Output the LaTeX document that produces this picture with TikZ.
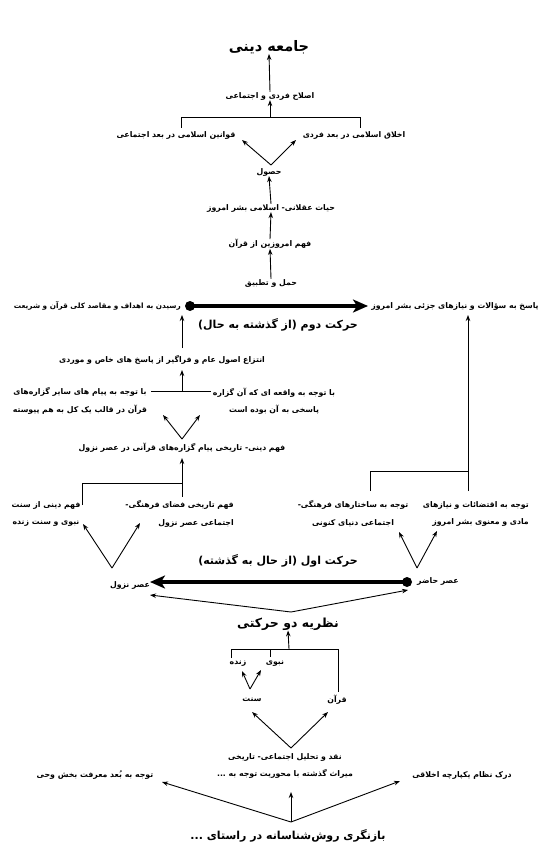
\documentclass[tikz,border=0pt]{standalone}
\usepackage{fontspec}
\usetikzlibrary{arrows.meta}
\TeXXeTstate=1
\newfontfamily\arabicfont[Script=Arabic]{DejaVu Sans}
\newcommand\fa[1]{\beginR #1\endR}
\begin{document}
\begin{tikzpicture}[x=1pt,y=-1pt,
  txt/.style={font=\arabicfont\bfseries\fontsize{7.8}{17.5}\selectfont, inner sep=0pt, align=center},
  big/.style={font=\arabicfont\bfseries\fontsize{14.5}{16}\selectfont, inner sep=0pt},
  mid/.style={font=\arabicfont\bfseries\fontsize{11}{13}\selectfont, inner sep=0pt},
  ln/.style={line width=0.9pt},
  arr/.style={line width=0.9pt, -{Stealth[length=6pt,width=4.5pt]}},
  thick arr/.style={line width=3.6pt, -{Stealth[length=15pt,width=13pt,inset=4pt]}},
  dotstyle/.style={circle, fill=black, inner sep=0pt, minimum size=10pt}]
\fill[white] (0,0) rectangle (550,858);
% ---------- top part ----------
\node[big] (jameh) at (269,47) {\fa{جامعه دینی}};
\node[txt] (eslah) at (270,96) {\fa{اصلاح فردی و اجتماعی}};
\node[txt] (ghavanin) at (176,135) {\fa{قوانین اسلامی در بعد اجتماعی}};
\node[txt] (akhlagh) at (354,135) {\fa{اخلاق اسلامی در بعد فردی}};
\node[txt] (hosul) at (269,172) {\fa{حصول}};
\node[txt] (hayat) at (271,208) {\fa{حیات عقلانی- اسلامی بشر امروز}};
\node[txt] (fahmEmruz) at (270,244) {\fa{فهم امروزین از قرآن}};
\node[txt] (haml) at (271,283) {\fa{حمل و تطبیق}};
\node[txt, anchor=east, font=\arabicfont\bfseries\fontsize{7.3}{9}\selectfont] (residan) at (181,306) {\fa{رسیدن به اهداف و مقاصد کلی قرآن و شریعت}};
\node[txt] (pasokh) at (455,306) {\fa{پاسخ به سؤالات و نیازهای جزئی بشر امروز}};
\node[mid] (harekat2) at (278,325) {\fa{حرکت دوم (از گذشته به حال)}};
\node[dotstyle] (dot2) at (190,306) {};
\coordinate (tip2) at (368,306);
\coordinate (brTopL) at (181,128);
\coordinate (brTopR) at (360,128);
\coordinate (brTopC) at (270,117);
\coordinate (hosulApex) at (271,165);
\coordinate (hosulL) at (242,140);
\coordinate (hosulR) at (296,140);
\draw[arr] (eslah.north) -- (jameh.south);
\draw[ln] (brTopL) -- (181,117) -- (360,117) -- (brTopR);
\draw[arr] (brTopC) -- (eslah.south);
\draw[arr] (hosulApex) -- (hosulL);
\draw[arr] (hosulApex) -- (hosulR);
\draw[arr] (hayat.north) -- (hosul.south);
\draw[arr] (fahmEmruz.north) -- (hayat.south);
\draw[arr] (haml.north) -- (fahmEmruz.south);
\draw[thick arr] (dot2.center) -- (tip2);
% ---------- middle part ----------
\node[txt] (entezaa) at (162,360) {\fa{انتزاع اصول عام و فراگیر از پاسخ های خاص و موردی}};
\node[txt] (bataj1) at (80,401) {\fa{با توجه به پیام های سایر گزاره‌های}\\\fa{قرآن در قالب یک کل به هم پیوسته}};
\node[txt] (bataj2) at (274,401) {\fa{با توجه به واقعه ای که آن گزاره}\\\fa{پاسخی به آن بوده است}};
\node[txt] (fahmDini) at (182,448) {\fa{فهم دینی- تاریخی پیام گزاره‌های قرآنی در عصر نزول}};
\node[txt] (sonnat) at (46,514) {\fa{فهم دینی از سنت}\\\fa{نبوی و سنت زنده}};
\node[txt, align=right, anchor=east] (fazayi) at (234,514) {\fa{فهم تاریخی فضای فرهنگی-}\\\fa{اجتماعی عصر نزول}};
\node[txt] (sakhtar) at (353,514) {\fa{توجه به ساختارهای فرهنگی-}\\\fa{اجتماعی دنیای کنونی}};
\node[txt, align=right, anchor=east] (eqtezaat) at (529,514) {\fa{توجه به اقتضائات و نیازهای}\\\fa{مادی و معنوی بشر امروز}};
\coordinate (entUp) at (182,348);
\coordinate (resDown) at (182,315);
\coordinate (bL) at (151,391);
\coordinate (bR) at (211,391);
\coordinate (bC) at (182,391);
\coordinate (bTip) at (182,370);
\coordinate (fdApex) at (182,439);
\coordinate (fdL) at (163,415);
\coordinate (fdR) at (200,415);
\coordinate (lbA) at (82,505);
\coordinate (lbB) at (182,497);
\coordinate (lbC) at (182,483);
\coordinate (fdTip) at (182,458);
\coordinate (rbA) at (370,491);
\coordinate (rbB) at (468,491);
\coordinate (rbTip) at (468,315);
\draw[arr] (entUp) -- (resDown);
\draw[ln] (bL) -- (bR);
\draw[arr] (bC) -- (bTip);
\draw[arr] (fdApex) -- (fdL);
\draw[arr] (fdApex) -- (fdR);
\draw[ln] (lbA) -- (82,483) -- (lbC) -- (lbB);
\draw[arr] (lbC) -- (fdTip);
\draw[ln] (rbA) -- (370,471) -- (468,471);
\draw[arr] (rbB) -- (rbTip);
% ---------- lower part ----------
\node[mid] (harekat1) at (278,561) {\fa{حرکت اول (از حال به گذشته)}};
\node[txt] (asrNozul) at (130,585) {\fa{عصر نزول}};
\node[txt, anchor=west] (asrHazer) at (417,581) {\fa{عصر حاضر}};
\node[dotstyle] (dot1) at (407,582) {};
\coordinate (tip1) at (150,582);
\coordinate (nzApex) at (112,568);
\coordinate (nzL) at (83,524);
\coordinate (nzR) at (140,523);
\coordinate (hzApex) at (417,568);
\coordinate (hzL) at (399,532);
\coordinate (hzR) at (437,531);
\draw[arr] (nzApex) -- (nzL);
\draw[arr] (nzApex) -- (nzR);
\draw[arr] (hzApex) -- (hzL);
\draw[arr] (hzApex) -- (hzR);
\draw[thick arr] (dot1.center) -- (tip1);
\node[mid, font=\arabicfont\bfseries\fontsize{12.5}{14}\selectfont] (nazariye) at (288,624) {\fa{نظریه دو حرکتی}};
\coordinate (nzTopApex) at (291,612);
\coordinate (nzTopL) at (150,595);
\coordinate (nzTopR) at (408,590);
\draw[arr] (nzTopApex) -- (nzTopL);
\draw[arr] (nzTopApex) -- (nzTopR);
\node[txt] (zende) at (238,664) {\fa{زنده}};
\node[txt] (nabavi) at (275,664) {\fa{نبوی}};
\node[txt] (sonnat2) at (252,700) {\fa{سنت}};
\node[txt] (quran) at (337,700) {\fa{قرآن}};
\coordinate (nbC) at (289,649);
\draw[ln] (231,658) -- (231,649) -- (338,649) -- (338,692);
\draw[ln] (270,649) -- (270,657);
\draw[arr] (nbC) -- (nazariye.south);
\coordinate (snApex) at (250,689);
\coordinate (snL) at (242,671);
\coordinate (snR) at (261,670);
\draw[arr] (snApex) -- (snL);
\draw[arr] (snApex) -- (snR);
\node[txt] (naqd) at (285,766) {\fa{نقد و تحلیل اجتماعی- تاریخی}\\\fa{میراث گذشته با محوریت توجه به ...}};
\coordinate (nqApex) at (291,748);
\coordinate (nqL) at (252,712);
\coordinate (nqR) at (328,712);
\draw[arr] (nqApex) -- (nqL);
\draw[arr] (nqApex) -- (nqR);
\node[txt] (vahy) at (95,775) {\fa{توجه به بُعد معرفت بخش وحی}};
\node[txt] (akhlaghi) at (462,775) {\fa{درک نظام یکپارچه اخلاقی}};
\node[mid] (baznegari) at (288,836) {\fa{بازنگری روش‌شناسانه در راستای ...}};
\coordinate (bzApex) at (291,822);
\coordinate (bzL) at (162,782);
\coordinate (bzR) at (400,781);
\coordinate (bzUp) at (291,792);
\draw[arr] (bzApex) -- (bzL);
\draw[arr] (bzApex) -- (bzR);
\draw[arr] (bzApex) -- (bzUp);
\end{tikzpicture}
\end{document}
